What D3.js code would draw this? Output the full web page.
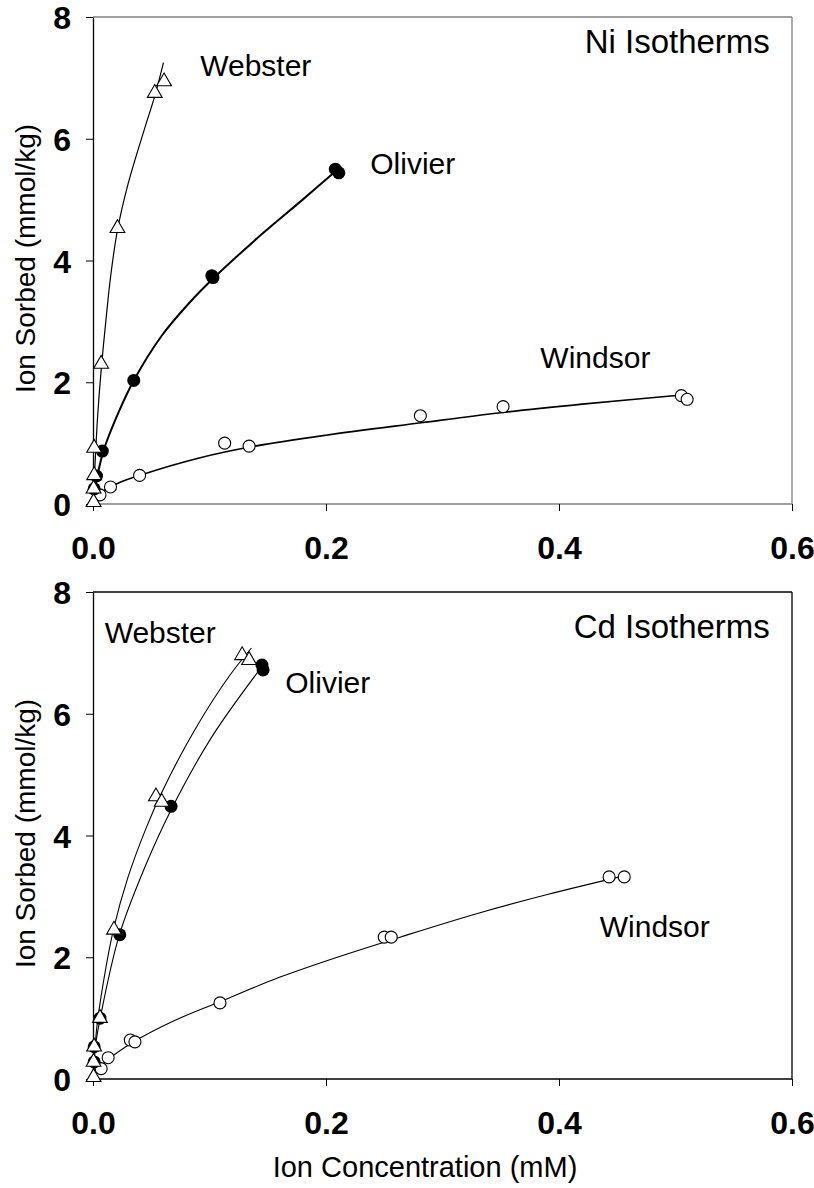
<!DOCTYPE html>
<html>
<head>
<meta charset="utf-8">
<script src="https://cdn.jsdelivr.net/npm/d3@7"></script>
<style>
  body { margin: 0; background: #fff; }
  text { font-family: "Liberation Sans", Arial, sans-serif; }
</style>
</head>
<body>
<div class="chart"></div>
<script>
// measured points, [concentration mM, sorbed mmol/kg]
const websterNi = [[0.0005,0.03],[0.0005,0.25],[0.001,0.47],[0.001,0.92],[0.007,2.30],[0.021,4.53],[0.053,6.75],[0.061,6.94]];
const olivierNi = [[0.001,0.25],[0.003,0.46],[0.008,0.87],[0.035,2.03],[0.102,3.75],[0.103,3.72],[0.208,5.50],[0.211,5.44]];
const windsorNi = [[0.006,0.15],[0.015,0.28],[0.04,0.47],[0.113,1.0],[0.134,0.95],[0.281,1.45],[0.352,1.6],[0.505,1.78],[0.51,1.72]];

const websterCd = [[0.0005,0.03],[0.0005,0.28],[0.001,0.53],[0.006,1.0],[0.018,2.45],[0.054,4.64],[0.059,4.55],[0.128,6.96],[0.134,6.88]];
const olivierCd = [[0.001,0.28],[0.001,0.53],[0.006,1.0],[0.023,2.37],[0.067,4.48],[0.145,6.8],[0.146,6.72]];
const windsorCd = [[0.007,0.17],[0.013,0.35],[0.032,0.64],[0.036,0.61],[0.109,1.25],[0.25,2.33],[0.256,2.33],[0.443,3.32],[0.456,3.32]];

// fitted isotherm curves
const websterNiFit = [[0.0005,0.15],[0.002,0.75],[0.004,1.45],[0.007,2.2],[0.011,3.0],[0.0152,3.75],[0.021,4.5],[0.03,5.25],[0.044,6.15],[0.053,6.7],[0.0605,7.25]];
const olivierNiFit = [[0.0007,0.16],[0.0088,0.86],[0.0225,1.53],[0.035,2.03],[0.0588,2.76],[0.082,3.29],[0.104,3.72],[0.146,4.45],[0.18,5.0],[0.209,5.48]];
const windsorNiFit = [[0.005,0.17],[0.02,0.33],[0.04,0.47],[0.092,0.76],[0.136,0.94],[0.2,1.13],[0.28,1.33],[0.35,1.5],[0.42,1.64],[0.51,1.8]];

const websterCdFit = [[0.0005,0.1],[0.003,0.8],[0.009,1.6],[0.018,2.49],[0.0298,3.30],[0.0443,4.06],[0.0588,4.70],[0.0878,5.75],[0.117,6.62],[0.136,7.08]];
const olivierCdFit = [[0.0005,0.05],[0.002,0.53],[0.0065,1.03],[0.0225,2.36],[0.0443,3.47],[0.067,4.42],[0.102,5.62],[0.146,6.8]];
const windsorCdFit = [[0.004,0.15],[0.013,0.32],[0.034,0.6],[0.07,0.96],[0.109,1.27],[0.16,1.67],[0.2,1.94],[0.2635,2.33],[0.33,2.72],[0.39,3.03],[0.452,3.32]];

const xTicks = [0, 0.2, 0.4, 0.6];
const yTicks = [0, 2, 4, 6, 8];

const width = 814, height = 1188;
const left = 93, right = 792;

const svg = d3.select(".chart").append("svg")
    .attr("width", width)
    .attr("height", height);

const x = d3.scaleLinear().domain([0, 0.6]).range([left, right]);

const tri = d3.symbol().type(d3.symbolTriangle).size(95);

function panel(top, bottom, opts) {
    const y = d3.scaleLinear().domain([0, 8]).range([bottom, top]);
    const g = svg.append("g");

    // frame
    g.append("line").attr("x1", left).attr("x2", right).attr("y1", top).attr("y2", top)
        .attr("stroke", opts.frame).attr("stroke-width", 1.3);
    g.append("line").attr("x1", right).attr("x2", right).attr("y1", top).attr("y2", bottom)
        .attr("stroke", opts.frame).attr("stroke-width", 1.3);
    g.append("line").attr("x1", left).attr("x2", right).attr("y1", bottom).attr("y2", bottom)
        .attr("stroke", opts.bottomColor).attr("stroke-width", 1.3);

    g.append("g")
        .attr("transform", `translate(${left},0)`)
        .call(d3.axisLeft(y).tickValues(yTicks).tickSize(7).tickSizeOuter(0).tickFormat(d3.format("d")))
        .call(a => a.select(".domain").attr("stroke-width", 1.3))
        .call(a => a.selectAll("text")
            .attr("fill", "#000")
            .style("font-size", "32px")
            .style("font-weight", "bold")
            .attr("x", -22).attr("dy", "0.36em"));

    g.append("g")
        .attr("transform", `translate(0,${bottom})`)
        .call(d3.axisBottom(x).tickValues(xTicks).tickSize(7).tickSizeOuter(0).tickFormat(d3.format(".1f")))
        .call(a => a.select(".domain").remove())
        .call(a => a.selectAll(".tick line").attr("stroke-width", 1))
        .call(a => a.selectAll("text")
            .attr("fill", "#000")
            .style("font-size", "32px")
            .style("font-weight", "bold")
            .attr("y", 32).attr("dy", "0.71em"));

    g.append("text")
        .attr("transform", `translate(25,${(top + bottom) / 2 - 2}) rotate(-90)`)
        .attr("text-anchor", "middle")
        .attr("dy", "0.35em")
        .style("font-size", "28px")
        .text("Ion Sorbed (mmol/kg)");

    const line = d3.line().x(d => x(d[0])).y(d => y(d[1])).curve(d3.curveCatmullRom.alpha(0.5));
    opts.fits.forEach(f => {
        g.append("path")
            .datum(f.data)
            .attr("fill", "none")
            .attr("stroke", "#000")
            .attr("stroke-width", f.w)
            .attr("d", line);
    });

    // open circles
    g.append("g").selectAll("circle")
        .data(opts.windsor)
        .join("circle")
        .attr("cx", d => x(d[0]))
        .attr("cy", d => y(d[1]))
        .attr("r", 6)
        .attr("fill", "#fff")
        .attr("stroke", "#000")
        .attr("stroke-width", 1.1);

    // filled circles
    g.append("g").selectAll("circle")
        .data(opts.olivier)
        .join("circle")
        .attr("cx", d => x(d[0]))
        .attr("cy", d => y(d[1]))
        .attr("r", 6.5)
        .attr("fill", "#000");

    // open triangles
    g.append("g").selectAll("path")
        .data(opts.webster)
        .join("path")
        .attr("transform", d => `translate(${x(d[0])},${y(d[1])})`)
        .attr("d", tri)
        .attr("fill", "#fff")
        .attr("stroke", "#000")
        .attr("stroke-width", 1.1);

    opts.labels.forEach(l => {
        g.append("text")
            .attr("x", x(l.x))
            .attr("y", y(l.y))
            .attr("dy", "0.35em")
            .attr("text-anchor", l.anchor || "start")
            .style("font-size", (l.size || 30) + "px")
            .text(l.text);
    });
    return y;
}

panel(17, 504, {
    frame: "#808080",
    bottomColor: "#808080",
    webster: websterNi, olivier: olivierNi, windsor: windsorNi,
    fits: [{data: websterNiFit, w: 1.2}, {data: olivierNiFit, w: 2}, {data: windsorNiFit, w: 1.6}],
    labels: [
        {text: "Ni Isotherms", x: 0.581, y: 7.6, anchor: "end", size: 33},
        {text: "Webster", x: 0.092, y: 7.2},
        {text: "Olivier", x: 0.238, y: 5.6},
        {text: "Windsor", x: 0.384, y: 2.41}
    ]
});

panel(592, 1079, {
    frame: "#000",
    bottomColor: "#000",
    webster: websterCd, olivier: olivierCd, windsor: windsorCd,
    fits: [{data: websterCdFit, w: 1.1}, {data: olivierCdFit, w: 1.1}, {data: windsorCdFit, w: 1.1}],
    labels: [
        {text: "Cd Isotherms", x: 0.581, y: 7.43, anchor: "end", size: 33},
        {text: "Webster", x: 0.010, y: 7.34},
        {text: "Olivier", x: 0.165, y: 6.52},
        {text: "Windsor", x: 0.435, y: 2.5}
    ]
});

svg.append("text")
    .attr("x", 425)
    .attr("y", 1167)
    .attr("dy", "0.35em")
    .attr("text-anchor", "middle")
    .style("font-size", "29px")
    .text("Ion Concentration (mM)");
</script>
</body>
</html>
